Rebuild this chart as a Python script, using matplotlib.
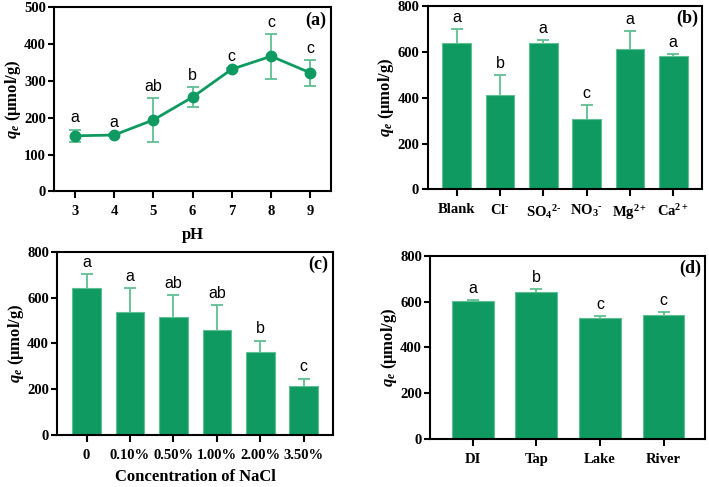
import numpy as np
import matplotlib.pyplot as plt

plt.rcParams['font.family'] = 'Liberation Serif'
plt.rcParams['font.weight'] = 'bold'
plt.rcParams['mathtext.fontset'] = 'custom'
plt.rcParams['mathtext.it'] = 'Liberation Serif:italic:bold'
plt.rcParams['mathtext.rm'] = 'Liberation Serif:bold'

# (a) pH
ph = [3, 4, 5, 6, 7, 8, 9]
ph_q = [151, 153, 194, 256, 332, 367, 322]
ph_err = [17, 2, 59, 28, 3, 61, 35]
ph_sig = ['a', 'a', 'ab', 'b', 'c', 'c', 'c']

# (b) co-existing ions
ion_labels = ['Blank', r'Cl$^{\text{-}}$', r'SO$_4$$^{2\text{-}}$', r'NO$_3$$^{\text{-}}$',
              r'Mg$^{2+}$', r'Ca$^{2+}$']
ion_q = [640, 413, 636, 305, 611, 583]
ion_err = [60, 86, 13, 62, 80, 6]
ion_sig = ['a', 'b', 'a', 'c', 'a', 'a']

# (c) NaCl
nacl_labels = ['0', '0.10%', '0.50%', '1.00%', '2.00%', '3.50%']
nacl_q = [640, 536, 517, 458, 364, 213]
nacl_err = [61, 105, 95, 108, 48, 33]
nacl_sig = ['a', 'a', 'ab', 'ab', 'b', 'c']

# (d) water matrix
water_labels = ['DI', 'Tap', 'Lake', 'River']
water_q = [602, 642, 527, 541]
water_err = [6, 14, 8, 15]
water_sig = ['a', 'b', 'c', 'c']

green = '#0f9a62'
light = '#5fbf92'
ylab = r'$q_e$ (μmol/g)'


def style(ax, tag):
    for s in ax.spines.values():
        s.set_linewidth(1.5)
    ax.tick_params(direction='out', length=4, width=1.5, labelsize=10.5, pad=2)
    ax.tick_params(axis='x', length=5, pad=5)
    for t in ax.get_xticklabels() + ax.get_yticklabels():
        t.set_fontweight('bold')
    ax.set_ylabel(ylab, fontsize=12, fontweight='bold', labelpad=1)
    ax.text(0.985, 0.93, tag, transform=ax.transAxes, ha='right', va='center',
            fontsize=13, fontweight='bold')


def letters(ax, xs, tops, sig):
    for x, t, s in zip(xs, tops, sig):
        ax.annotate(s, (x, t), xytext=(0, 3), textcoords='offset points',
                    ha='center', va='bottom', fontsize=11.5,
                    family='Liberation Sans', fontweight='normal')


def bars(ax, labels, q, err, sig):
    x = np.arange(len(q))
    ax.errorbar(x, q, yerr=err, fmt='none', ecolor=light, elinewidth=1.3,
                capsize=4.5, capthick=1.3, zorder=1)
    ax.bar(x, q, width=0.66, color=green, edgecolor=light, linewidth=0.8, zorder=2)
    ax.set_xticks(x)
    ax.set_xticklabels(labels)
    ax.set_xlim(-0.67, len(q) - 1 + 0.66)
    ax.set_ylim(0, 800)
    ax.set_yticks([0, 200, 400, 600, 800])
    letters(ax, x, np.array(q) + np.array(err), sig)


fig = plt.figure(figsize=(7.09, 4.87), dpi=100)

ax = fig.add_axes([0.0766, 0.607, 0.390, 0.378])
ax.errorbar(ph, ph_q, yerr=ph_err, fmt='none', ecolor=light, elinewidth=1.3,
            capsize=4.5, capthick=1.3, zorder=1)
ax.plot(ph, ph_q, '-o', color=green, lw=2, ms=7.5, zorder=2)
ax.set_xlim(2.48, 9.52)
ax.set_ylim(0, 500)
ax.set_xticks(ph)
ax.set_yticks(range(0, 501, 100))
ax.set_xlabel('pH', fontsize=12, fontweight='bold', labelpad=6)
letters(ax, ph, np.array(ph_q) + np.array(ph_err), ph_sig)
style(ax, '(a)')

ax = fig.add_axes([0.603, 0.611, 0.387, 0.377])
bars(ax, ion_labels, ion_q, ion_err, ion_sig)
style(ax, '(b)')

ax = fig.add_axes([0.081, 0.107, 0.388, 0.376])
bars(ax, nacl_labels, nacl_q, nacl_err, nacl_sig)
ax.set_xlabel('Concentration of NaCl', fontsize=12, fontweight='bold', labelpad=5)
style(ax, '(c)')

ax = fig.add_axes([0.607, 0.098, 0.388, 0.377])
bars(ax, water_labels, water_q, water_err, water_sig)
style(ax, '(d)')

fig.savefig('out.png', dpi=100)
